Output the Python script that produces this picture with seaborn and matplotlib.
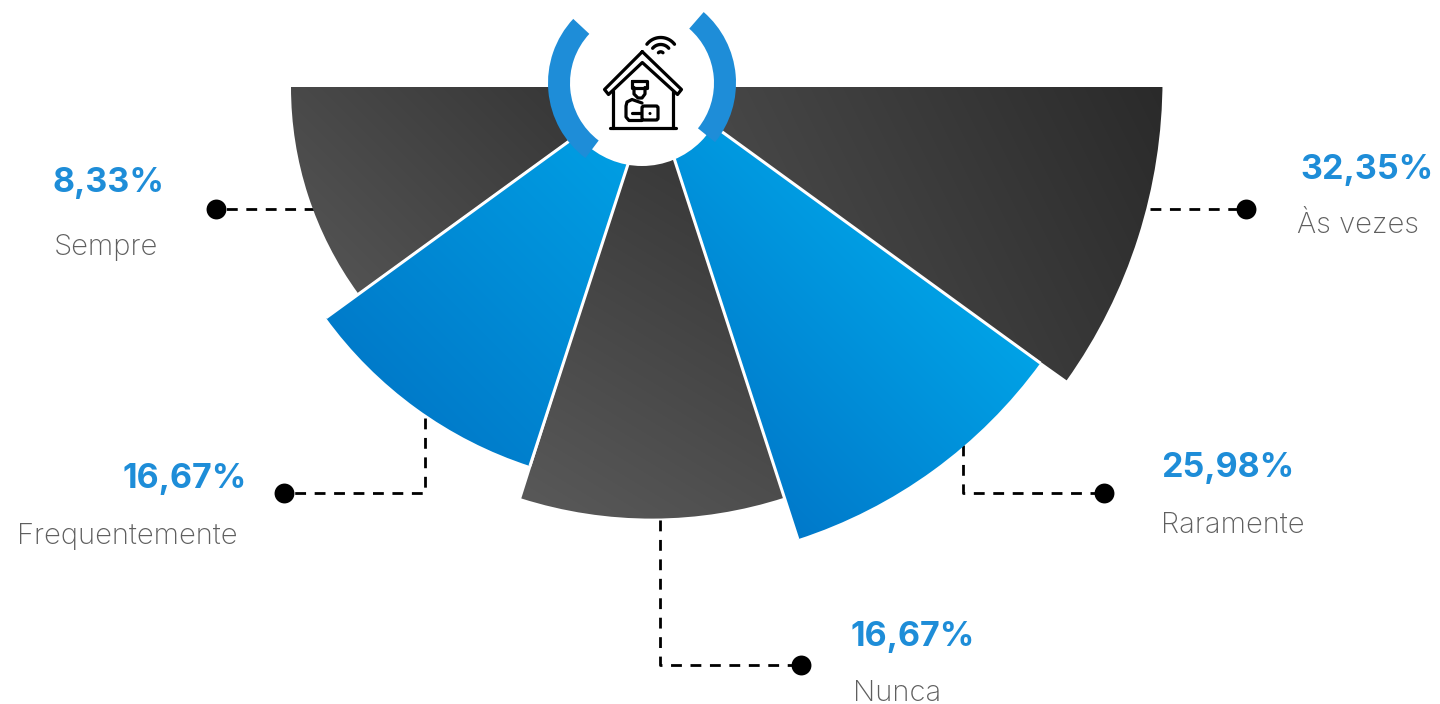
import numpy as np
import pandas as pd
import matplotlib
matplotlib.use("Agg")
import matplotlib.pyplot as plt
from matplotlib.patches import Wedge, Circle, FancyBboxPatch, Rectangle
import seaborn as sns

# Survey answers, ordered clockwise from the right-hand edge of the fan
categories = ["Às vezes", "Raramente", "Nunca", "Frequentemente", "Sempre"]
shares = [32.35, 25.98, 16.67, 16.67, 8.33]
reach = [518.5, 485, 431, 408, 351]
sector_from = [0, 36, 72, 108, 144]
sector_to = [35.4, 72, 107.6, 144, 180]

# Apex of each sector
apex_x = [644, 648, 651.6, 656, 642]
apex_y = [80, 78, 87.6, 78, 87]

# Sectors are painted in this order, and the blue ones get white side rules
paint_order = [0, 4, 2, 1, 3]
ruled = [1, 3]

# Label anchors: (value x, value baseline, name x, name baseline)
value_x = [1300, 1161, 850, 122, 52]
value_y = [179, 477, 646, 488, 192]
name_x = [1297, 1161, 853, 17, 54]
name_y = [233, 533, 701, 544, 255]

# Leader lines from each sector to its dot
leaders = {
    "Às vezes": ([1150, 1246], [209, 209]),
    "Raramente": ([963, 963, 1104], [445, 493, 493]),
    "Nunca": ([660, 660, 801], [520, 665, 665]),
    "Frequentemente": ([425, 425, 284], [418, 493, 493]),
    "Sempre": ([315, 216], [209, 209]),
}
dot_x = [1246, 1104, 801, 284, 216]
dot_y = [209, 493, 665, 493, 209]

# Gradient stops and direction per sector
grad_from = ["#2a2a2a", "#00a2e6", "#353535", "#00a6e9", "#323232"]
grad_to = ["#4a4a4a", "#0079ca", "#585858", "#007bca", "#525252"]
grad_dir = [(-1, 0.5), (-1, 1), (-0.6, 1), (-1, 1), (-1, 1)]

BLUE = "#1e8dd8"
FAN_TOP = 87

sns.set_theme(style="white")
plt.rcParams["font.family"] = ["Inter", "DejaVu Sans"]

fig = plt.figure(figsize=(14.4, 7.04), dpi=100, facecolor="white")
ax = fig.add_axes([0, 0, 1, 1])
ax.set_axis_off()

# Dashed leaders and end dots sit under the sectors
for name, (lx, ly) in leaders.items():
    frame = pd.DataFrame({"x": lx, "y": ly})
    sns.lineplot(data=frame, x="x", y="y", sort=False, estimator=None, ax=ax,
                 color="black", linewidth=2.0, linestyle=(0, (3.9, 3.1)),
                 zorder=1, legend=False)
sns.scatterplot(x=dot_x, y=dot_y, s=205, color="black", linewidth=0, ax=ax,
                zorder=2, legend=False)

# Gradient-filled sectors
px, py = np.meshgrid(np.arange(1440) + 0.5, np.arange(704) + 0.5)
for step, i in enumerate(paint_order):
    cx, cy = apex_x[i], apex_y[i]
    t1, t2 = sector_from[i], sector_to[i]
    polar_r = np.hypot(px - cx, py - cy)
    polar_a = np.degrees(np.arctan2(py - cy, px - cx)) % 360
    inside = (polar_r <= reach[i]) & (polar_a >= t1) & (polar_a <= t2)
    d = grad_dir[i]
    proj = px * d[0] + py * d[1]
    span_lo, span_hi = proj[inside].min(), proj[inside].max()
    shade = np.clip((proj - span_lo) / (span_hi - span_lo), 0, 1)
    cmap = sns.blend_palette([grad_from[i], grad_to[i]], as_cmap=True)
    level = 3 + step * 0.1
    img = ax.imshow(shade, cmap=cmap, vmin=0, vmax=1, extent=(0, 1440, 704, 0),
                    interpolation="bilinear", zorder=level, aspect="auto")
    clip = Wedge((cx, cy), reach[i], t1, t2, transform=ax.transData,
                 facecolor="none", edgecolor="none")
    ax.add_patch(clip)
    img.set_clip_path(clip)
    if i in ruled:
        for t in (t1, t2):
            ang = np.radians(t)
            ax.plot([cx, cx + reach[i] * np.cos(ang)],
                    [cy, cy + reach[i] * np.sin(ang)],
                    color="white", lw=2.2, zorder=level + 0.01,
                    solid_capstyle="butt")
    if step == 0:
        # Trim the first sector to the flat top line of the fan
        ax.add_patch(Rectangle((640, 0), 560, FAN_TOP, facecolor="white",
                               edgecolor="none", zorder=level + 0.05))

# Central hub with the two blue arcs
HX, HY = 642, 83
ax.add_patch(Circle((HX, HY), 83, facecolor="white", edgecolor="none", zorder=5))
for t1, t2 in [(127, 223), (-49, 39)]:
    ax.add_patch(Wedge((HX, HY), 94, t1, t2, width=22, facecolor=BLUE,
                       edgecolor="none", zorder=6))

LW = 2.3
INK = "black"


def stroke(xs, ys, lw=LW):
    ax.plot(xs, ys, color=INK, lw=lw, zorder=7, solid_capstyle="round",
            solid_joinstyle="round")


# House outline
stroke([642.3, 604.5, 608.5, 642.3, 677.5, 681.5, 642.3],
       [51.7, 89.5, 94.5, 62.5, 94.5, 89.5, 51.7])
stroke([612.7, 612.7], [91, 128])
stroke([672.7, 672.7], [91, 128])
stroke([609.5, 676], [128, 128])

# Figure with a cap and a laptop
stroke([632, 647, 647, 632, 632], [80.5, 80.5, 87.5, 87.5, 80.5])
stroke([634, 634, 638, 642, 645, 645], [87.5, 94, 98, 98, 94, 87.5])
stroke([642, 632, 627, 626, 626, 629, 642],
       [103, 99.5, 102, 106, 117, 120.5, 120.5])
stroke([632, 642], [113, 113])
ax.add_patch(FancyBboxPatch((642, 106), 16, 14, boxstyle="round,pad=0,rounding_size=2",
                            facecolor="white", edgecolor=INK, lw=LW, zorder=7))
ax.add_patch(Circle((650, 113.5), 1.5, facecolor=INK, edgecolor="none", zorder=8))

# Wireless signal arcs
for radius, half in [(17.5, 52), (10.5, 50)]:
    a = np.radians(np.linspace(-90 - half, -90 + half, 30))
    stroke(660.7 + radius * np.cos(a), 55 + radius * np.sin(a), lw=2.4)
a = np.radians(np.linspace(-135, -45, 12))
stroke(660.7 + 3.2 * np.cos(a), 55 + 3.2 * np.sin(a), lw=2.4)

# Value and category labels
for i, name in enumerate(categories):
    ax.text(value_x[i], value_y[i], f"{shares[i]:.2f}".replace(".", ",") + "%",
            fontsize=24.5, fontweight="bold", color=BLUE, ha="left",
            va="baseline", zorder=9)
    ax.text(name_x[i], name_y[i], name, fontsize=21, fontweight="light",
            color="#5f5f5f", ha="left", va="baseline", zorder=9)

ax.set_xlim(0, 1440)
ax.set_ylim(704, 0)
ax.set_xlabel("")
ax.set_ylabel("")
fig.savefig("out.png", dpi=100, facecolor="white")
